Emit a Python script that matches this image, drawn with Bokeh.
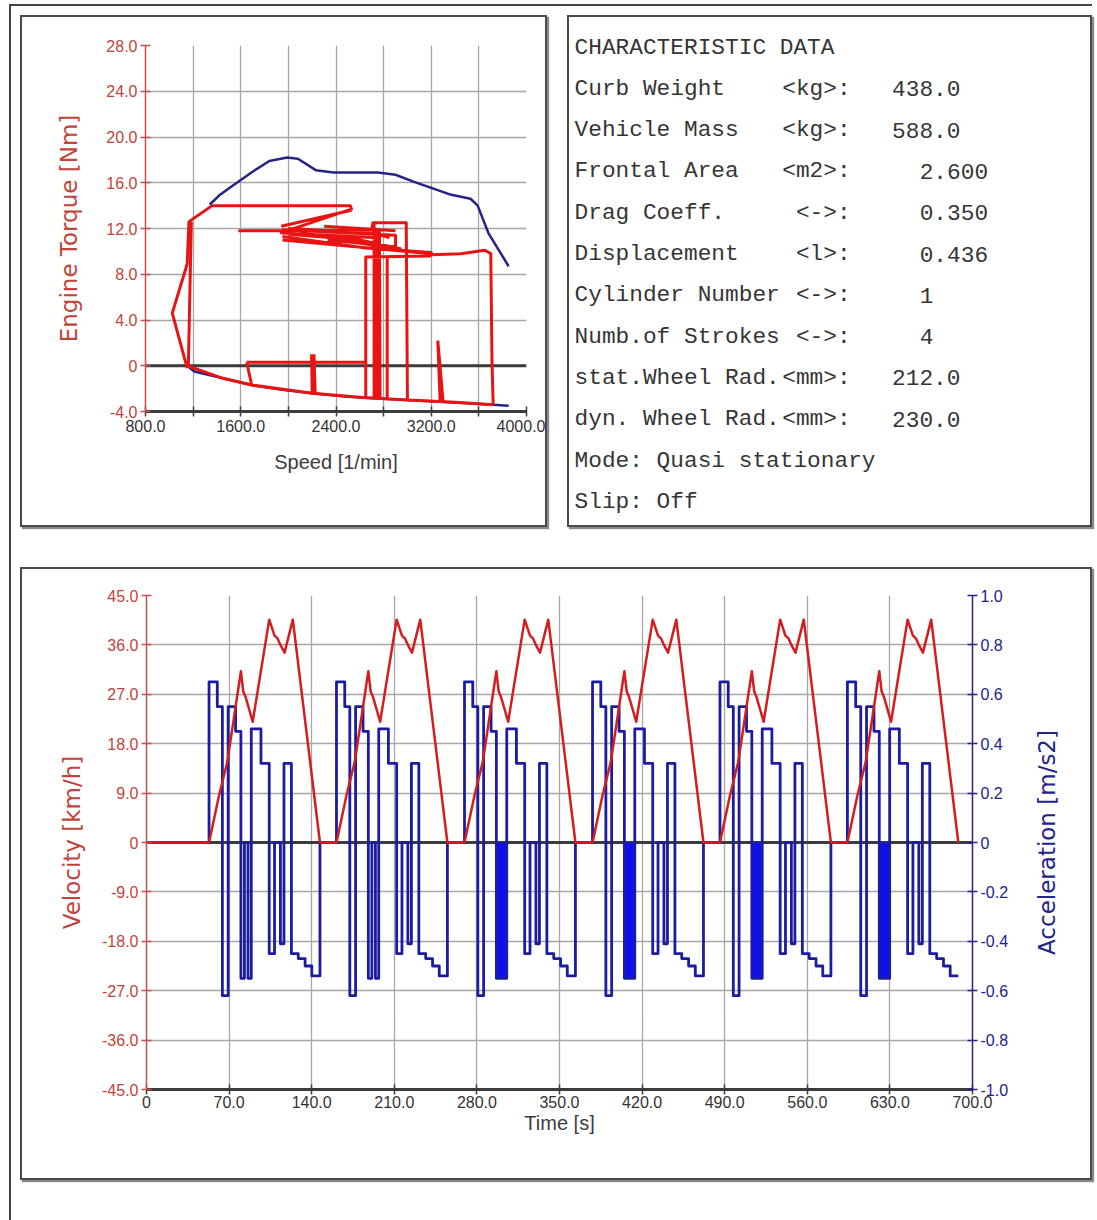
import math
from bokeh.plotting import figure
from bokeh.models import (Range1d, LinearAxis, FixedTicker, Span,
                          CustomJSTickFormatter)
from bokeh.layouts import column, row
from bokeh.core.properties import value
from bokeh.embed import file_html
from bokeh.resources import INLINE

NAN = float("nan")

# ------------------------------------------------------------------ data
# Engine map (top left)
full_load_speed = [1340, 1420, 1540, 1690, 1840, 1990, 2080, 2230, 2380,
                   2750, 2900, 3050, 3350, 3530, 3590, 3680, 3850]
full_load_torque = [14.1, 14.9, 15.8, 16.9, 17.9, 18.2, 18.1, 17.1, 16.9,
                    16.9, 16.7, 16.1, 15.0, 14.6, 14.0, 11.6, 8.7]
motoring_speed = [1150, 1210, 1450, 1700, 1950, 2200, 2500, 2840, 3200, 3620, 3850]
motoring_torque = [0.0, -0.5, -1.1, -1.7, -2.1, -2.4, -2.7, -2.9, -3.1, -3.35, -3.5]

op_speed = [1150, 1025, 1150, 1165, 1360, 2520, 2530, 1930, NAN,
            1160, 1185, NAN,
            1940, 2530, NAN,
            1580, 2700, 2710, 2990, 3000, NAN,
            1950, 2650, 3200, 3190, 2650, 2650, NAN,
            1950, 2900, 2900, 2330, NAN,
            1950, 3200, NAN,
            2000, 2700, 2850, NAN,
            2100, 2900, NAN,
            1950, 2750, NAN,
            2300, 2900, NAN,
            2000, 2600, 2950, NAN,
            2720, 2720, NAN,
            2745, 2745, NAN,
            2765, 2770, NAN,
            2830, 2830, NAN,
            3200, 3450, 3650, 3700, 3710, 3720, NAN,
            1150, 1450, 1700, 2200, 2650, 3000, 3400, 3720, NAN,
            1650, 2650, NAN,
            1650, 1690, NAN,
            2195, 2200, NAN,
            2215, 2225, NAN,
            3255, 3275, NAN,
            3255, 3300]
op_torque = [-0.2, 4.6, 8.9, 12.6, 14.0, 14.0, 13.7, 11.6, NAN,
             0.0, 12.6, NAN,
             12.2, 13.6, NAN,
             11.8, 11.9, 12.5, 12.5, -3.0, NAN,
             11.3, 10.3, 9.9, 9.6, 9.5, -2.8, NAN,
             11.9, 11.4, 10.4, 11.0, NAN,
             11.0, 9.8, NAN,
             12.0, 11.6, 11.2, NAN,
             11.6, 10.2, NAN,
             11.6, 11.2, NAN,
             12.2, 11.8, NAN,
             11.5, 11.0, 10.2, NAN,
             12.4, -2.9, NAN,
             12.0, -2.9, NAN,
             11.9, -2.9, NAN,
             9.6, -2.9, NAN,
             9.7, 9.8, 10.1, 9.8, 0.5, -3.4, NAN,
             0.0, -1.1, -1.7, -2.4, -2.8, -3.0, -3.2, -3.4, NAN,
             0.3, 0.3, NAN,
             0.3, -1.6, NAN,
             1.0, -2.4, NAN,
             1.0, -2.4, NAN,
             2.2, -3.2, NAN,
             2.2, -3.2]

speed_ticks = [800, 1200, 1600, 2000, 2400, 2800, 3200, 3600, 4000]
speed_tick_labels = ["800.0", "", "1600.0", "", "2400.0", "", "3200.0", "", "4000.0"]
torque_ticks = [-4, 0, 4, 8, 12, 16, 20, 24, 28]
torque_tick_labels = ["-4.0", "0", "4.0", "8.0", "12.0", "16.0", "20.0", "24.0", "28.0"]

# Characteristic data (top right)
char_title = "CHARACTERISTIC DATA"
char_labels = ["Curb Weight", "Vehicle Mass", "Frontal Area", "Drag Coeff.",
               "Displacement", "Cylinder Number", "Numb.of Strokes",
               "stat.Wheel Rad.", "dyn. Wheel Rad."]
char_units = ["<kg>:", "<kg>:", "<m2>:", "<->:", "<l>:", "<->:", "<->:", "<mm>:", "<mm>:"]
char_values = ["438.0", "588.0", "2.600", "0.350", "0.436", "1", "4", "212.0", "230.0"]
char_footer = ["Mode: Quasi stationary", "Slip: Off"]

# Driving cycle (bottom)
cycle_starts = [53.0, 161.0, 269.5, 378.0, 486.0, 594.0]
cycle_dense = [False, False, True, True, True, True]
vel_rel_t = [0, 8.5, 15.5, 21.5, 27, 29, 31, 37, 51, 55.5, 58, 60.5, 64, 71, 94]
vel_kmh = [0, 8.6, 14.7, 23.3, 31.2, 27.5, 26.5, 22.0, 40.6, 37.7, 37.2, 36.0, 34.6, 40.6, 0]
acc_rel_t = [0, 7.0, 11.3, 16.2, 22.5, 27.0, 30.0, 33.0, 35.8, 44.0, 51.0, 55.5,
             60.5, 63.5, 69.8, 75.6, 81.4, 87.1, 94.0]
acc_ms2 = [0.65, 0.55, -0.62, 0.55, 0.45, -0.55, 0.0, -0.55, 0.46, 0.32, -0.45, 0.0,
           -0.41, 0.32, -0.45, -0.47, -0.50, -0.54, 0.0]
dense_rel_start, dense_rel_end, dense_level = 27.0, 35.8, -0.55

time_ticks = [0, 70, 140, 210, 280, 350, 420, 490, 560, 630, 700]
time_tick_labels = ["0", "70.0", "140.0", "210.0", "280.0", "350.0", "420.0",
                    "490.0", "560.0", "630.0", "700.0"]
vel_ticks = [-45, -36, -27, -18, -9, 0, 9, 18, 27, 36, 45]
vel_tick_labels = ["-45.0", "-36.0", "-27.0", "-18.0", "-9.0", "0", "9.0", "18.0",
                   "27.0", "36.0", "45.0"]
acc_ticks = [-1.0, -0.8, -0.6, -0.4, -0.2, 0.0, 0.2, 0.4, 0.6, 0.8, 1.0]
acc_tick_labels = ["-1.0", "-0.8", "-0.6", "-0.4", "-0.2", "0", "0.2", "0.4",
                   "0.6", "0.8", "1.0"]

# ------------------------------------------------------------------ style
RED_LBL = "#c0443a"
NAVY = "#23238a"
DARK = "#3c3c3c"
GRID = "#a6a6a6"
TICK_FONT = "Liberation Sans"
TITLE_FONT = "Liberation Sans"
VTITLE_FONT = "DejaVu Sans"
TICK_FS = "16px"
PANEL = {"border": "2px solid #4a4a4a", "box-shadow": "2px 2px 1px #8a8a8a"}

JS = "const i = tv.findIndex(t => Math.abs(t - tick) < 1e-6); return i < 0 ? '' : tl[i];"


def fmt(tv, tl):
    return CustomJSTickFormatter(args=dict(tv=tv, tl=tl), code=JS)


def style_axis(ax, color, label_color, line_color, line_width, title_font):
    ax.axis_line_color = line_color
    ax.axis_line_width = line_width
    ax.major_tick_line_color = line_color
    ax.major_tick_line_width = 1.5
    ax.major_tick_in = 5
    ax.major_tick_out = 5
    ax.minor_tick_line_color = None
    ax.major_label_text_font = TICK_FONT
    ax.major_label_text_font_size = TICK_FS
    ax.major_label_text_color = label_color
    ax.major_label_standoff = 3
    ax.axis_label_text_font = title_font
    ax.axis_label_text_font_style = "normal"
    ax.axis_label_text_color = color


# ------------------------------------------------------------------ top left
TOP_B, BOT_B = 28, 118
p1 = figure(width=527, height=512, x_range=Range1d(800, 4000), y_range=Range1d(-4, 28),
            output_backend="svg", toolbar_location=None,
            min_border_left=123, min_border_right=23, min_border_top=TOP_B,
            min_border_bottom=BOT_B)
p1.outline_line_color = None
p1.xaxis.ticker = FixedTicker(ticks=speed_ticks)
p1.yaxis.ticker = FixedTicker(ticks=torque_ticks)
p1.xgrid.ticker = FixedTicker(ticks=speed_ticks)
p1.ygrid.ticker = FixedTicker(ticks=torque_ticks)
p1.xaxis.formatter = fmt(speed_ticks, speed_tick_labels)
p1.yaxis.formatter = fmt(torque_ticks, torque_tick_labels)
p1.grid.grid_line_color = GRID
p1.grid.grid_line_width = 1.3
style_axis(p1.xaxis[0], DARK, "#333333", DARK, 3, TITLE_FONT)
style_axis(p1.yaxis[0], RED_LBL, RED_LBL, "#c65050", 1.5, VTITLE_FONT)
p1.xaxis.axis_label = "Speed [1/min]"
p1.xaxis.axis_label_text_font_size = "20px"
p1.xaxis.axis_label_standoff = 16
p1.yaxis.axis_label = "Engine Torque [Nm]"
p1.yaxis.axis_label_text_font_size = "23px"
p1.yaxis.axis_label_standoff = 21
p1.add_layout(Span(location=0, dimension="width", line_color=DARK, line_width=3, level="underlay"))

p1.line(motoring_speed, motoring_torque, line_color=NAVY, line_width=2.5)
p1.line(op_speed, op_torque, line_color="#e81414", line_width=3, line_join="round")
p1.line(full_load_speed, full_load_torque, line_color=NAVY, line_width=2.5)

# ------------------------------------------------------------------ top right
# The row aligns this frame with the left plot's frame (same top/bottom borders),
# so the ranges are chosen such that one unit is about one page pixel.
p2 = figure(width=525, height=512, x_range=Range1d(569, 1090), y_range=Range1d(17 + 508 - BOT_B, 17 + TOP_B),
            output_backend="svg", toolbar_location=None,
            min_border_left=0, min_border_right=0, min_border_top=TOP_B, min_border_bottom=BOT_B,
            x_axis_location=None, y_axis_location=None, title_location=None)
p2.grid.visible = False
p2.outline_line_color = None
CW = 13.7        # character advance of the monospace font (page px)
X0 = 574
Y0 = 47
DY = 40.85
MONO = value("Liberation Mono")
txt_kw = dict(text_font=MONO, text_font_size="22.8px", text_baseline="middle",
              text_color="#353535", level="overlay")
n = len(char_labels)
rows_y = [Y0 + DY * (i + 1) for i in range(n)]
p2.text(x=[X0], y=[Y0], text=[char_title], **txt_kw)
p2.text(x=[X0] * n, y=rows_y, text=char_labels, **txt_kw)
p2.text(x=[X0 + 20 * CW] * n, y=rows_y, text=char_units, text_align="right", **txt_kw)
val_x = [X0 + (26 - (v.index(".") if "." in v else len(v))) * CW for v in char_values]
p2.text(x=val_x, y=rows_y, text=char_values, **txt_kw)
p2.text(x=[X0] * len(char_footer), y=[Y0 + DY * (n + 1 + i) for i in range(len(char_footer))],
        text=char_footer, **txt_kw)

# ------------------------------------------------------------------ bottom
p3 = figure(width=1072, height=613, x_range=Range1d(0, 700), y_range=Range1d(-45, 45),
            output_backend="svg", toolbar_location=None,
            min_border_left=124, min_border_right=122, min_border_top=26, min_border_bottom=93)
p3.outline_line_color = None
p3.extra_y_ranges = {"acc": Range1d(-1, 1)}
p3.xaxis.ticker = FixedTicker(ticks=time_ticks)
p3.yaxis.ticker = FixedTicker(ticks=vel_ticks)
p3.xgrid.ticker = FixedTicker(ticks=time_ticks)
p3.ygrid.ticker = FixedTicker(ticks=vel_ticks)
p3.xaxis.formatter = fmt(time_ticks, time_tick_labels)
p3.yaxis.formatter = fmt(vel_ticks, vel_tick_labels)
p3.grid.grid_line_color = GRID
p3.grid.grid_line_width = 1.3
style_axis(p3.xaxis[0], DARK, "#333333", DARK, 3, TITLE_FONT)
style_axis(p3.yaxis[0], RED_LBL, RED_LBL, "#c65050", 1.5, VTITLE_FONT)
p3.xaxis.major_label_standoff = 1
p3.xaxis.axis_label = "Time [s]"
p3.xaxis.axis_label_text_font_size = "20px"
p3.xaxis.axis_label_standoff = 1
p3.yaxis.axis_label = "Velocity [km/h]"
p3.yaxis.axis_label_text_font_size = "23px"
p3.yaxis.axis_label_standoff = 14

ax_r = LinearAxis(y_range_name="acc", ticker=FixedTicker(ticks=acc_ticks),
                  formatter=fmt(acc_ticks, acc_tick_labels))
style_axis(ax_r, NAVY, NAVY, NAVY, 1.5, VTITLE_FONT)
p3.add_layout(ax_r, "right")
p3.add_layout(Span(location=0, dimension="width", line_color=DARK, line_width=3, level="underlay"))

# right-hand title, reading bottom-to-top like the left one, drawn in the right border
acc_title = ["Acceleration [m/s2]"]
p3.text(x=[763], y=[0], y_range_name="acc", text=acc_title, angle=math.pi / 2,
        text_align="center", text_baseline="middle", text_font=value(VTITLE_FONT),
        text_font_size="23px", text_color=NAVY, level="overlay")

# build the repeated cycle traces from the per-cycle readings
vel_t, vel_v = [0.0], [0.0]
acc_t, acc_v = [0.0], [0.0]
dense_left, dense_right = [], []
for k, s in enumerate(cycle_starts):
    for rt, v in zip(vel_rel_t, vel_kmh):
        vel_t.append(s + rt)
        vel_v.append(v)
    for rt, a in zip(acc_rel_t, acc_ms2):
        if cycle_dense[k] and dense_rel_start < rt < dense_rel_end:
            continue
        acc_t.append(s + rt)
        acc_v.append(a)
    if cycle_dense[k]:
        dense_left.append(s + dense_rel_start)
        dense_right.append(s + dense_rel_end)
acc_v[-1] = acc_v[-2]

p3.quad(left=dense_left, right=dense_right, top=[0] * len(dense_left),
        bottom=[dense_level] * len(dense_left), y_range_name="acc",
        fill_color="#1010ee", line_color=NAVY, line_width=1.5)
p3.step(acc_t, acc_v, mode="after", y_range_name="acc", line_color="#1c1ca0",
        line_width=2.8, line_join="round")
p3.line(vel_t, vel_v, line_color="#d41e1e", line_width=2.5, line_join="round")

for p in (p1, p2, p3):
    p.styles = PANEL
    p.background_fill_color = "white"
    p.border_fill_color = "white"

top = row(p1, p2, spacing=20)
root = column(top, p3, spacing=40,
              styles={"border-left": "2px solid #444", "border-top": "2px solid #444",
                      "padding-left": "9px", "padding-top": "9px", "padding-bottom": "45px",
                      "margin-left": "9px", "margin-top": "4px"})

open("out.html", "w").write(file_html(root, INLINE))
